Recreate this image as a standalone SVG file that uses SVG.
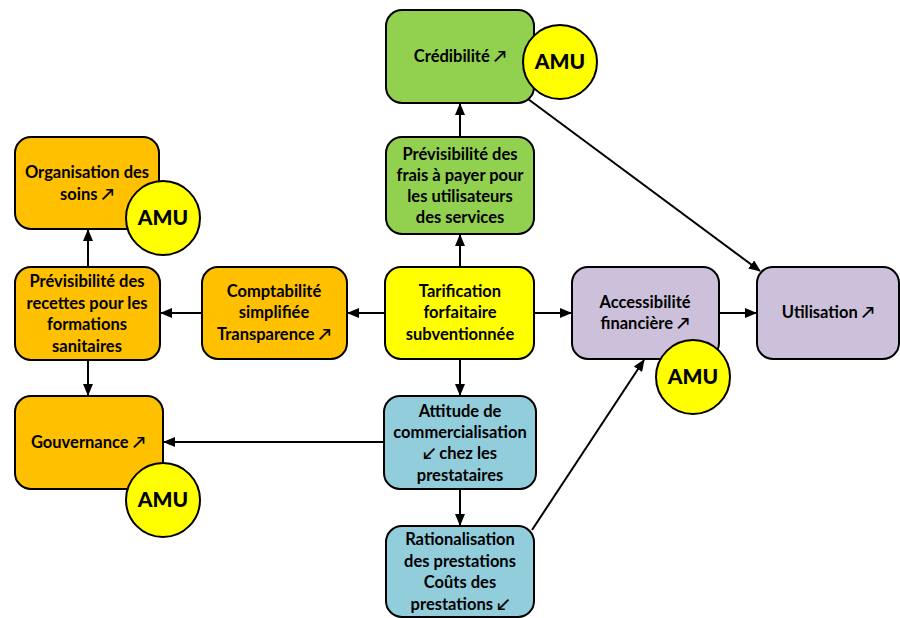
<svg xmlns="http://www.w3.org/2000/svg" width="900" height="618" viewBox="0 0 900 618">
  <style>
    .box { stroke: #000; stroke-width: 2; }
    .orange { fill: #FFC000; }
    .green { fill: #92D050; }
    .yellow { fill: #FFFF00; }
    .purple { fill: #CCC0DA; }
    .blue { fill: #92CDDC; }
    .amu { fill: #FFFF00; stroke: #000; stroke-width: 2; }
    .lbl { font-family: Lato, "Open Sans", "DejaVu Sans", sans-serif; font-weight: bold; font-size: 16.5px; fill: #000; text-anchor: middle; }
    .amut { font-family: Lato, "Liberation Sans", sans-serif; font-weight: 900; font-size: 21px; fill: #000; text-anchor: middle; }
    .edge { stroke: #000; stroke-width: 2; fill: none; marker-end: url(#arrow); }
  </style>
  <defs>
    <marker id="arrow" markerWidth="12" markerHeight="10" refX="11" refY="5" orient="auto" markerUnits="userSpaceOnUse">
      <path d="M0,0 L12,5 L0,10 Z" fill="#000"/>
    </marker>
  </defs>
  <rect width="900" height="618" fill="#fff"/>

  <g id="connectors">
    <line class="edge" x1="460" y1="137" x2="460" y2="104"/>
    <line class="edge" x1="460" y1="267" x2="460" y2="235"/>
    <line class="edge" x1="385" y1="313" x2="348" y2="313"/>
    <line class="edge" x1="202" y1="313" x2="161" y2="313"/>
    <line class="edge" x1="88" y1="267" x2="88" y2="230"/>
    <line class="edge" x1="88" y1="360" x2="88" y2="395"/>
    <line class="edge" x1="534" y1="313" x2="571" y2="313"/>
    <line class="edge" x1="719" y1="313" x2="756" y2="313"/>
    <line class="edge" x1="460" y1="359" x2="460" y2="395"/>
    <line class="edge" x1="384" y1="442" x2="164" y2="442"/>
    <line class="edge" x1="460" y1="489" x2="460" y2="525"/>
    <line class="edge" x1="532" y1="530" x2="644" y2="360"/>
    <line class="edge" x1="528" y1="99" x2="760" y2="271"/>
  </g>

  <g id="credibilite">
    <rect class="box green" x="386" y="10" width="148" height="93" rx="16"/>
    <text class="lbl" x="460" y="62">Crédibilité ↗</text>
  </g>
  <g id="amu-credibilite">
    <circle class="amu" cx="560" cy="62" r="37"/>
    <text class="amut" x="560" y="69">AMU</text>
  </g>

  <g id="previsibilite-frais">
    <rect class="box green" x="386" y="137" width="148" height="97" rx="16"/>
    <text class="lbl" x="460" y="160">Prévisibilité des</text>
    <text class="lbl" x="460" y="181">frais à payer pour</text>
    <text class="lbl" x="460" y="202">les utilisateurs</text>
    <text class="lbl" x="460" y="223">des services</text>
  </g>

  <g id="organisation-soins">
    <rect class="box orange" x="15" y="137" width="144" height="92" rx="16"/>
    <text class="lbl" x="87" y="178">Organisation des</text>
    <text class="lbl" x="87" y="200">soins ↗</text>
  </g>
  <g id="amu-organisation">
    <circle class="amu" cx="163" cy="218" r="37"/>
    <text class="amut" x="163" y="225">AMU</text>
  </g>

  <g id="previsibilite-recettes">
    <rect class="box orange" x="15" y="267" width="145" height="93" rx="16"/>
    <text class="lbl" x="87" y="287">Prévisibilité des</text>
    <text class="lbl" x="87" y="309">recettes pour les</text>
    <text class="lbl" x="87" y="330">formations</text>
    <text class="lbl" x="87" y="352">sanitaires</text>
  </g>

  <g id="comptabilite">
    <rect class="box orange" x="202" y="267" width="145" height="92" rx="16"/>
    <text class="lbl" x="274" y="297">Comptabilité</text>
    <text class="lbl" x="274" y="318">simplifiée</text>
    <text class="lbl" x="274" y="340">Transparence ↗</text>
  </g>

  <g id="tarification">
    <rect class="box yellow" x="385" y="267" width="149" height="92" rx="16"/>
    <text class="lbl" x="460" y="297">Tarification</text>
    <text class="lbl" x="460" y="318">forfaitaire</text>
    <text class="lbl" x="460" y="340">subventionnée</text>
  </g>

  <g id="accessibilite">
    <rect class="box purple" x="572" y="267" width="147" height="92" rx="16"/>
    <text class="lbl" x="645" y="308">Accessibilité</text>
    <text class="lbl" x="645" y="329">financière ↗</text>
  </g>
  <g id="amu-accessibilite">
    <circle class="amu" cx="693" cy="377" r="37"/>
    <text class="amut" x="693" y="384">AMU</text>
  </g>

  <g id="utilisation">
    <rect class="box purple" x="757" y="267" width="142" height="92" rx="16"/>
    <text class="lbl" x="828" y="318">Utilisation ↗</text>
  </g>

  <g id="gouvernance">
    <rect class="box orange" x="15" y="396" width="148" height="93" rx="16"/>
    <text class="lbl" x="88" y="448">Gouvernance ↗</text>
  </g>
  <g id="amu-gouvernance">
    <circle class="amu" cx="163" cy="500" r="37"/>
    <text class="amut" x="163" y="507">AMU</text>
  </g>

  <g id="attitude">
    <rect class="box blue" x="384" y="396" width="152" height="93" rx="16"/>
    <text class="lbl" x="460" y="417">Attitude de</text>
    <text class="lbl" x="460" y="438">commercialisation</text>
    <text class="lbl" x="460" y="459">↙ chez les</text>
    <text class="lbl" x="460" y="481">prestataires</text>
  </g>

  <g id="rationalisation">
    <rect class="box blue" x="386" y="526" width="148" height="91" rx="16"/>
    <text class="lbl" x="460" y="545">Rationalisation</text>
    <text class="lbl" x="460" y="567">des prestations</text>
    <text class="lbl" x="460" y="588">Coûts des</text>
    <text class="lbl" x="460" y="610">prestations ↙</text>
  </g>
</svg>
